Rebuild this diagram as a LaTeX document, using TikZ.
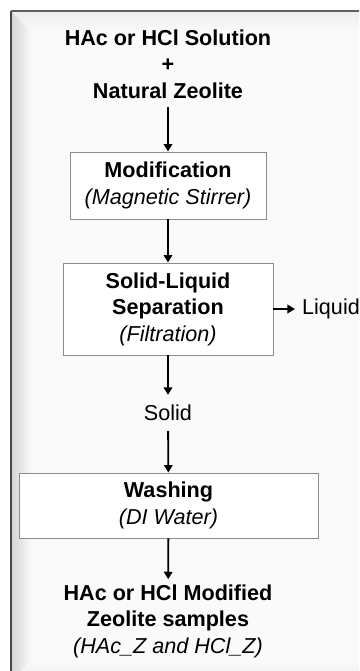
\documentclass[tikz,border=0pt]{standalone}
\usepackage{fontspec}
\setmainfont{Liberation Sans}
\usetikzlibrary{arrows.meta}

\definecolor{panelbg}{RGB}{250,250,250}
\definecolor{framedark}{RGB}{70,70,70}
\definecolor{boxline}{RGB}{140,140,140}

\begin{document}
\begin{tikzpicture}[x=1pt, y=-1pt,
    every node/.style={font=\fontsize{21.6}{26.5}\selectfont, align=center, inner sep=0pt},
    stepbox/.style={draw=boxline, line width=0.9pt, fill=white},
    flow/.style={line width=1.8pt, -{Triangle[length=7.5pt, width=8.5pt]}}]
    \useasboundingbox (0, 0) rectangle (359, 671);
    \clip (0, 0) rectangle (359, 671);

    % panel with bevel
    \fill[panelbg] (11, 11) rectangle (380, 700);
    \shade[left color=gray!32, right color=panelbg] (12, 12) -- (32, 32) -- (32, 660) -- (12, 680) -- cycle;
    \shade[top color=gray!14, bottom color=panelbg] (12, 12) -- (380, 12) -- (380, 32) -- (32, 32) -- cycle;
    \shade[bottom color=gray!12, top color=panelbg] (12, 680) -- (32, 660) -- (380, 660) -- (380, 680) -- cycle;
    \draw[framedark, line width=2pt] (11, 700) -- (11, 11);
    \draw[gray!75!black, line width=1.6pt] (11, 11) -- (380, 11);

    % steps
    \node (feed) at (168, 64) {\textbf{HAc or HCl Solution}\\\textbf{+}\\\textbf{Natural Zeolite}};
    \node[stepbox, minimum width=196pt, minimum height=67pt] (modif) at (168, 185.5)
        {\textbf{Modification}\\\textit{(Magnetic Stirrer)}};
    \node[stepbox, minimum width=210pt, minimum height=92pt] (separ) at (168, 309)
        {\textbf{Solid-Liquid}\\\textbf{Separation}\\\textit{(Filtration)}};
    \node[inner xsep=7pt] (liquid) at (331, 309) {Liquid};
    \node[inner ysep=10pt] (solid) at (168, 413) {Solid};
    \node[stepbox, minimum width=299pt, minimum height=65pt] (wash) at (168.5, 505.5)
        {\textbf{Washing}\\\textit{(DI Water)}};
    \node (product) at (168, 621) {\textbf{HAc or HCl Modified}\\\textbf{Zeolite samples}\\\textit{(HAc\_Z and HCl\_Z)}};

    % arrows
    \draw[flow, shorten <=8pt] (feed) -- (modif);
    \draw[flow] (modif) -- (separ);
    \draw[flow] (separ) -- (liquid);
    \draw[flow] (separ) -- (solid);
    \draw[flow] (solid) -- (wash);
    \draw[flow, shorten >=5pt] (wash) -- (product);
\end{tikzpicture}
\end{document}
